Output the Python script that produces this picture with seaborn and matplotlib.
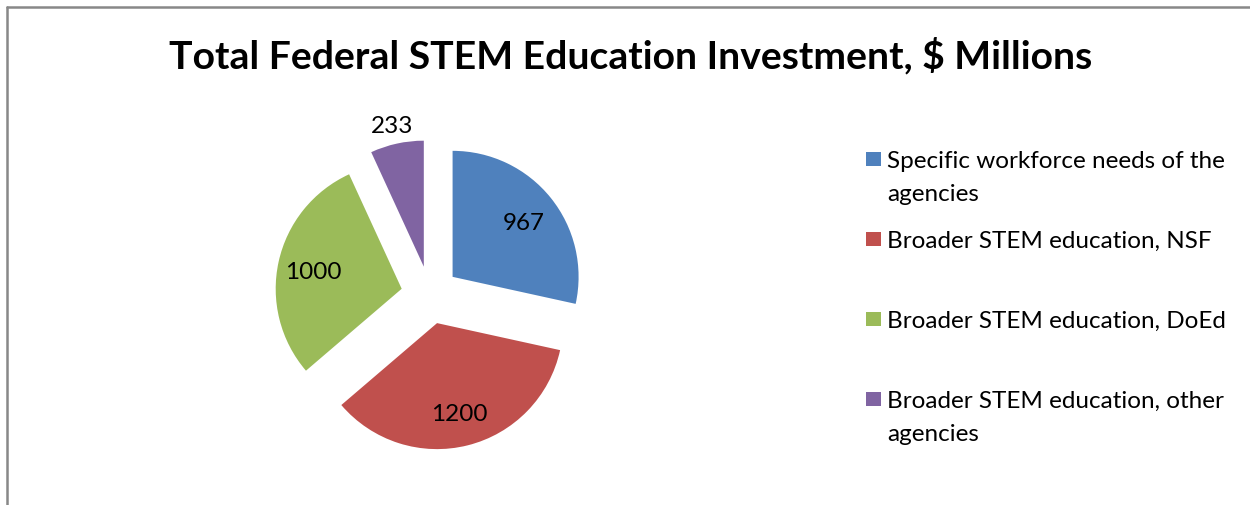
import numpy as np
import matplotlib
matplotlib.use("Agg")
import matplotlib.pyplot as plt
from matplotlib.patches import Rectangle
from matplotlib.lines import Line2D
import seaborn as sns

# Federal STEM education investment by category ($ millions)
categories = [
    "Specific workforce needs of the\nagencies",
    "Broader STEM education, NSF",
    "Broader STEM education, DoEd",
    "Broader STEM education, other\nagencies",
]
values = [967, 1200, 1000, 233]
colors = ["#4F81BD", "#C0504D", "#9BBB59", "#8064A2"]
title = "Total Federal STEM Education Investment, $ Millions"

sns.set_theme(style="white")
plt.rcParams["font.family"] = ["Lato", "DejaVu Sans"]

W, H = 1250, 506
fig = plt.figure(figsize=(W / 100, H / 100), dpi=100)
fig.patch.set_facecolor("white")

def px(x, y):
    """pixel (from top-left) -> figure fraction"""
    return x / W, 1 - y / H

# pie axes: centre at (430, 296) px, radius 126 px, limits +-1.5
R = 126
cx, cy = 430, 296
side = 3 * R
ax = fig.add_axes([(cx - side / 2) / W, (H - cy - side / 2) / H, side / W, side / H])
palette = sns.color_palette(colors)
wedges, _ = ax.pie(values, colors=palette, startangle=90, counterclock=False,
                   explode=[0.23] * len(values), radius=1,
                   wedgeprops=dict(linewidth=0))
ax.set_xlim(-1.5, 1.5)
ax.set_ylim(-1.5, 1.5)
ax.set_aspect("equal")
ax.axis("off")

# data labels: inside for large slices, outside for the small one
total = sum(values)
for w, v in zip(wedges, values):
    ang = np.deg2rad((w.theta1 + w.theta2) / 2)
    ox, oy = w.center
    dist = 0.72 if v / total > 0.1 else 1.17
    ax.text(ox + dist * np.cos(ang), oy + dist * np.sin(ang) - 0.02, f"{v}",
            ha="center", va="center", fontsize=17.5, color="black")

# title
tx, ty = px(631, 68)
fig.text(tx, ty, title, ha="center", va="baseline", fontsize=28.2,
         fontweight="bold", color="black")

# legend
baselines = [168, 248, 328, 408]
for lab, col, b in zip(categories, palette, baselines):
    fig.patches.append(Rectangle((866 / W, 1 - (b - 1) / H), 15 / W, 14 / H,
                                 transform=fig.transFigure, facecolor=col,
                                 edgecolor="none"))
    for i, line in enumerate(lab.split("\n")):
        lx, ly = px(887, b + 33 * i)
        fig.text(lx, ly, line, ha="left", va="baseline", fontsize=17.5,
                 color="black")

# chart frame (top and left edges visible)
fig.add_artist(Line2D([7 / W, 7 / W], [0, 1 - 8 / H], transform=fig.transFigure,
                      color="#888888", linewidth=1.8))
fig.add_artist(Line2D([7 / W, 1], [1 - 8 / H, 1 - 8 / H], transform=fig.transFigure,
                      color="#888888", linewidth=1.8))

fig.savefig("out.png", dpi=100, facecolor="white")
